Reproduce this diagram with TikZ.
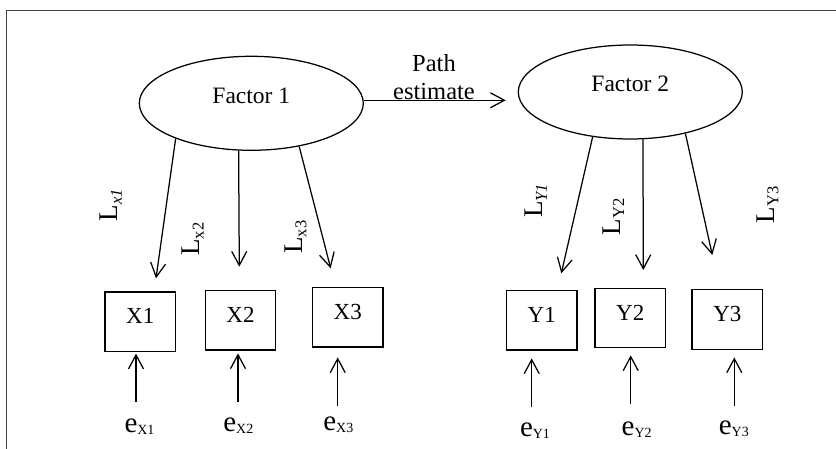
\documentclass[tikz,border=0pt]{standalone}
\usepackage{fontspec}
\setmainfont{Liberation Serif}
\usetikzlibrary{arrows.meta,shapes.geometric}

% loading label: L with a lowered subscript
\newcommand{\loadlab}[1]{{\fontsize{27}{27}\selectfont L}\raisebox{-4pt}{\fontsize{16.5}{16.5}\selectfont #1}}
% error term label: e with a lowered subscript
\newcommand{\errlab}[1]{{\fontsize{29}{29}\selectfont e}\raisebox{-2pt}{\fontsize{14}{14}\selectfont #1}}

\begin{document}
\begin{tikzpicture}[x=1pt,y=-1pt,line width=1.25pt,
  arr/.style={-{Straight Barb[length=14pt,width=15pt]}},
  factor/.style={draw,ellipse,minimum width=224pt,minimum height=94pt,inner sep=0pt,
    text depth=16pt,font=\fontsize{23.5}{28}\selectfont},
  indicator/.style={draw,rectangle,minimum width=70.5pt,minimum height=59.5pt,inner sep=0pt,
    text depth=11pt,font=\fontsize{23}{28}\selectfont},
  loadtext/.style={rotate=90,inner sep=0pt},
  errtext/.style={anchor=base,inner sep=0pt},
  frame/.style={line width=1.4pt,black!75}]
\useasboundingbox (0,0) rectangle (836,449);

% outer frame (left and top edges)
\draw[frame] (6.7,449) -- (6.7,10.5) -- (836,10.5);

% latent factors
\node[factor] (F1) at (251.3,103.3) {Factor 1};
\node[factor] (F2) at (630.3,92) {Factor 2};

% structural path
\coordinate (tP) at (505.7,100.3);
\draw[arr] ([yshift=3pt]F1.east) -- (tP);
\node[align=center,inner sep=0pt,font=\fontsize{24.5}{27.6}\selectfont] (pathlab) at (434,77) {Path\\estimate};

% indicators
\node[indicator] (X1) at (140.3,321.7) {X1};
\node[indicator] (X2) at (240.5,320.2) {X2};
\node[indicator] (X3) at (347.8,317.2) {X3};
\node[indicator] (Y1) at (541.8,320.2) {Y1};
\node[indicator] (Y2) at (630.2,318) {Y2};
\node[indicator] (Y3) at (727.3,319.5) {Y3};

% loadings
\coordinate (tX1) at (156,278.3);
\coordinate (tX2) at (239.3,266.7);
\coordinate (tX3) at (330.7,268.3);
\coordinate (tY1) at (561.3,273.3);
\coordinate (tY2) at (643.3,270);
\coordinate (tY3) at (712.3,255);
\draw[arr] (F1.205.3) -- (tX1);
\draw[arr] (F1.255.8) -- (tX2);
\draw[arr] (F1.318.7) -- (tX3);
\draw[arr] (F2.230.1) -- (tY1);
\draw[arr] (F2.285.5) -- (tY2);
\draw[arr] (F2.323.9) -- (tY3);

\node[loadtext] (lx1) at (111,205) {\loadlab{\itshape x1}};
\node[loadtext] (lx2) at (192.7,239) {\loadlab{x2}};
\node[loadtext] (lx3) at (295.5,237) {\loadlab{x3}};
\node[loadtext] (ly1) at (536,201) {\loadlab{\itshape Y1}};
\node[loadtext] (ly2) at (613.2,216.7) {\loadlab{Y2}};
\node[loadtext] (ly3) at (767.5,205) {\loadlab{Y3}};

% error terms
\coordinate (sX1) at (136,401.7);
\coordinate (sX2) at (238,401.7);
\coordinate (sX3) at (337.7,406);
\coordinate (sY1) at (531.7,407.3);
\coordinate (sY2) at (630.7,404.3);
\coordinate (sY3) at (734.3,405.7);
\draw[arr,shorten >=1.5pt] (sX1) -- (sX1 |- X1.south);
\draw[arr,shorten >=2.8pt] (sX2) -- (sX2 |- X2.south);
\draw[arr,shorten >=9.8pt] (sX3) -- (sX3 |- X3.south);
\draw[arr,shorten >=7.8pt] (sY1) -- (sY1 |- Y1.south);
\draw[arr,shorten >=7pt] (sY2) -- (sY2 |- Y2.south);
\draw[arr,shorten >=7.5pt] (sY3) -- (sY3 |- Y3.south);

\node[errtext] (eX1) at (139.5,432.3) {\errlab{X1}};
\node[errtext] (eX2) at (238.3,431.7) {\errlab{X2}};
\node[errtext] (eX3) at (338.3,430.7) {\errlab{X3}};
\node[errtext] (eY1) at (535,436.7) {\errlab{Y1}};
\node[errtext] (eY2) at (636.7,435.7) {\errlab{Y2}};
\node[errtext] (eY3) at (733.8,434) {\errlab{Y3}};
\end{tikzpicture}
\end{document}
